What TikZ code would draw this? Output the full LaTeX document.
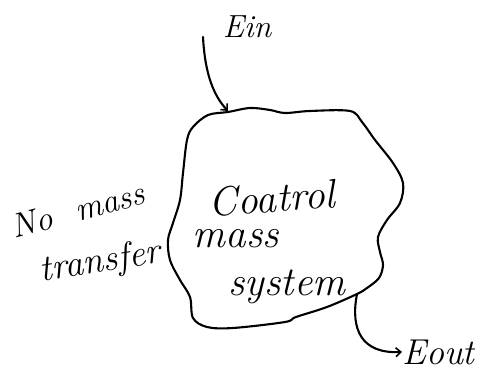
\documentclass[tikz,border=0pt]{standalone}
\usetikzlibrary{arrows.meta}
\begin{document}
\begin{tikzpicture}[x=1pt,y=-1pt,
  ink/.style={line width=2.1pt, line cap=round, line join=round},
  hand/.style={inner sep=0pt, font=\fontsize{34}{34}\selectfont\itshape},
  handin/.style={inner sep=0pt, font=\fontsize{41}{41}\selectfont\itshape},
  flow/.style={ink, -{Straight Barb[length=5pt,width=9pt,line width=1.6pt]}}]
\useasboundingbox (0,0) rectangle (495,371);
% system boundary
\draw[ink] plot[smooth cycle, tension=0.55] coordinates {
  (228,112) (250,108) (270,110) (285,113) (310,111) (350,111)
  (362,122) (375,140) (393,163) (403,183) (400,203) (387,220)
  (378,237) (380,252) (383,265) (379,278) (367,288) (357,294)
  (327,307) (296,317) (285,322) (233,328) (207,327) (193,318)
  (190,297) (180,280) (170,260) (168,240) (173,223) (180,200)
  (183,173) (187,140) (193,127) (208,115)};
\coordinate (top) at (228,111);
\coordinate (bot) at (357,294);
\coordinate (start) at (203,37);
% labels
\node[hand, font=\fontsize{32}{32}\selectfont\itshape] (ein) at (247,27) {Ein};
\node[hand, anchor=base west, font=\fontsize{36}{36}\selectfont\itshape] (eout) at (402,364) {Eout};
\node[hand, rotate=15] (nomass) at (78,210) {No\ \ mass};
\node[hand, rotate=9, font=\fontsize{37}{37}\selectfont\itshape] (transfer) at (100,263) {transfer};
\node[handin, rotate=4] (coatrol) at (272,198) {Coatrol};
\node[handin] (mass) at (236,239) {mass};
\node[handin] (system) at (287,287) {system};
% energy flows
\draw[flow] (start) .. controls (205,75) and (214,96) .. (top);
\draw[flow] (bot) .. controls (350,330) and (362,354) .. (eout.west);
\end{tikzpicture}
\end{document}
